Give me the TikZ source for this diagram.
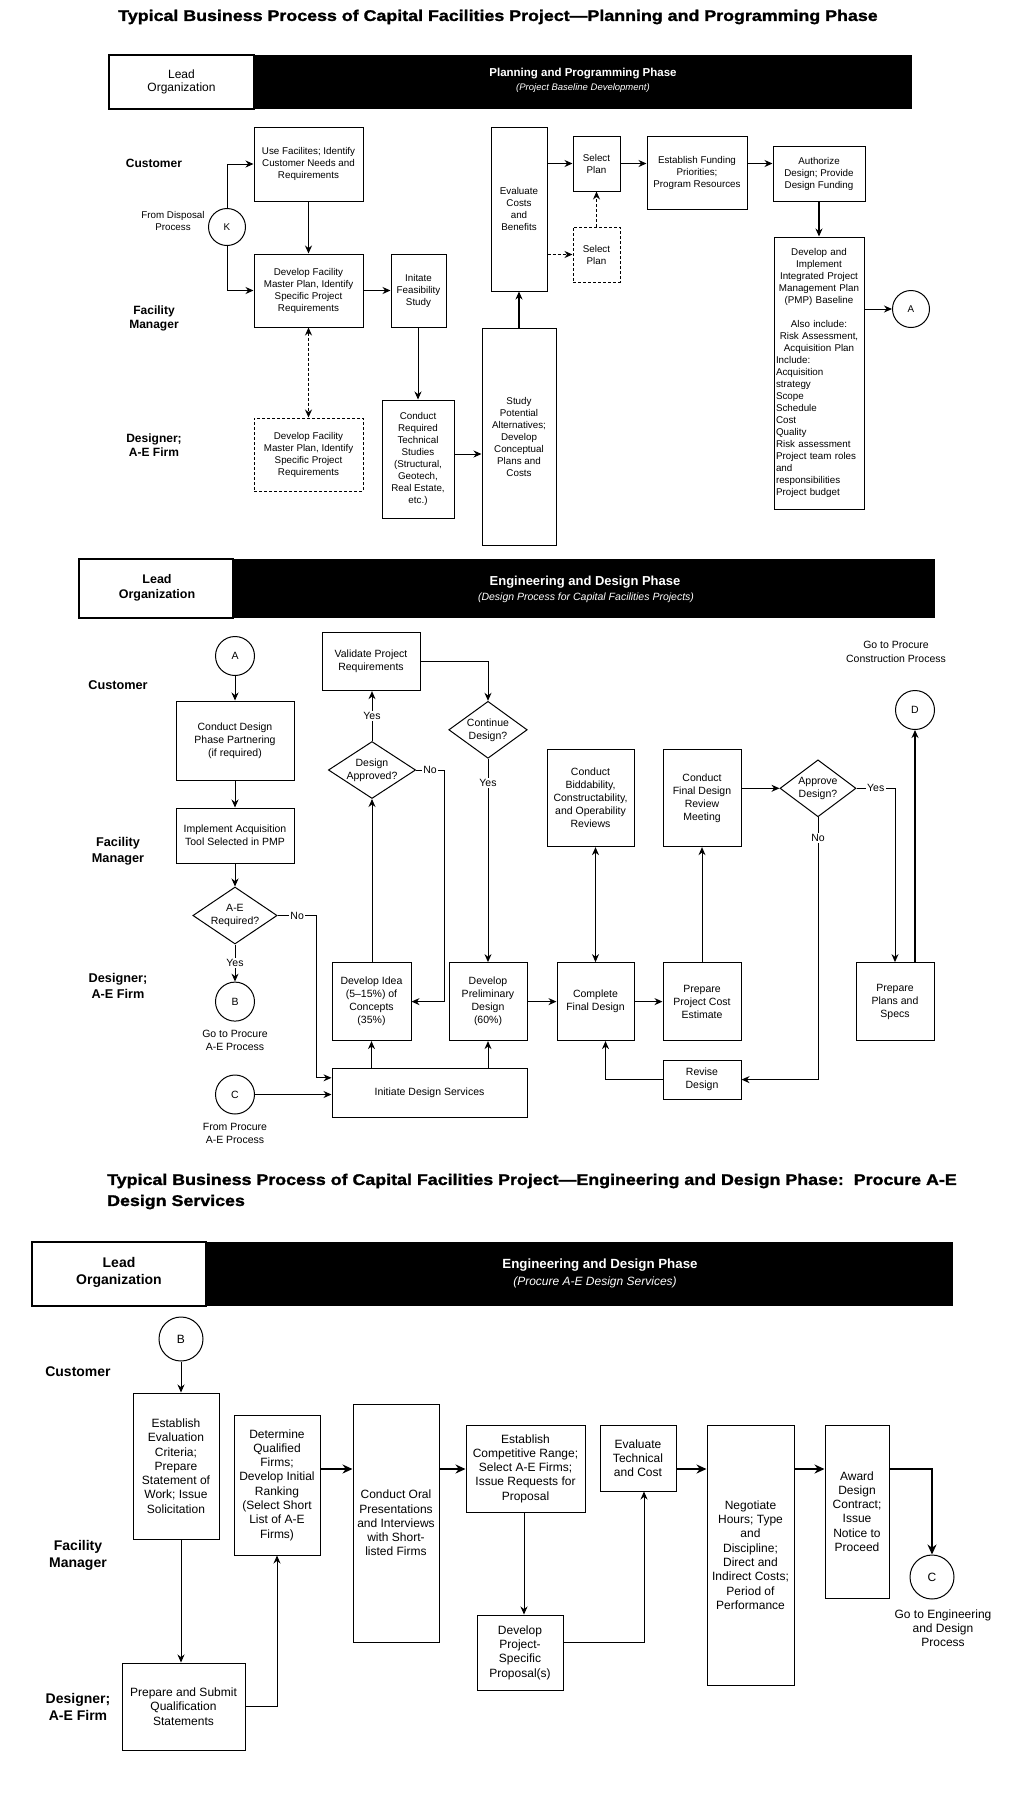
\documentclass[tikz,border=0pt]{standalone}
\usepackage{fontspec}
\setmainfont{Liberation Sans}
\newfontfamily\titlefont[FakeStretch=1.15,FakeBold=1.5]{Liberation Sans}
\usetikzlibrary{shapes.geometric, arrows.meta}

\newcommand{\plansize}{\fontsize{9.8}{12}\selectfont}
\newcommand{\designsize}{\fontsize{10.5}{13}\selectfont}
\newcommand{\procuresize}{\fontsize{12}{14.3}\selectfont}

\tikzstyle{process} = [rectangle, draw=black, line width=1pt, align=center, inner sep=2pt]
\tikzstyle{dashbox} = [process, dash pattern=on 3pt off 2pt]
\tikzstyle{decision} = [diamond, draw=black, line width=1pt, align=center, aspect=1.6, inner sep=0pt, minimum width=78pt, minimum height=57pt]
\tikzstyle{connector} = [circle, draw=black, line width=1pt, minimum size=37pt, inner sep=0pt]
\tikzstyle{lane} = [align=center]
\tikzstyle{note} = [align=center]
\tikzstyle{answer} = [fill=white, inner sep=1.5pt]
\tikzstyle{arrow} = [line width=1pt, ->, >={Stealth[length=8pt, width=7pt]}]
\tikzstyle{heavyarrow} = [arrow, line width=1.8pt]
\tikzstyle{flowarrow} = [line width=2.4pt, ->, >={Stealth[length=10pt, width=9pt]}]
\tikzstyle{dasharrow} = [arrow, dash pattern=on 3pt off 2pt]

\begin{document}
\begin{tikzpicture}[x=1pt, y=-1pt]
\useasboundingbox (0,0) rectangle (1026,1800);

% ---------- planning and programming phase ----------
\begin{scope}[every node/.append style={font=\plansize}]
\node (title1) [font=\titlefont\bfseries\fontsize{15.5}{17}\selectfont] at (498,17) {Typical Business Process of Capital Facilities Project—Planning and Programming Phase};

\fill (254,55) rectangle (912,109);
\draw [line width=1.2pt] (109,55) rectangle (254,109);
\node (lead1) [align=center, font=\fontsize{12}{13}\selectfont] at (181.5,82) {Lead\\Organization};
\node (phase1) [text=white, font=\bfseries\fontsize{11.5}{13}\selectfont] at (583,74) {Planning and Programming Phase};
\node (sub1) [text=white, font=\itshape\fontsize{9.5}{11}\selectfont] at (583,88) {(Project Baseline Development)};

\node (cust1) [lane, font=\bfseries\fontsize{12}{14}\selectfont] at (154,163) {Customer};
\node (fm1) [lane, font=\bfseries\fontsize{12}{14}\selectfont] at (154,318) {Facility\\Manager};
\node (des1) [lane, font=\bfseries\fontsize{12}{14}\selectfont] at (154,445) {Designer;\\A-E Firm};

\node (k) [connector] at (227,227) {K};
\node (fromdisp) [note] at (173,221) {From Disposal\\Process};

\node (usefac) [process, minimum width=109pt, minimum height=74pt] at (308.5,164) {Use Facilites; Identify\\Customer Needs and\\Requirements};
\node (masterplan) [process, minimum width=109pt, minimum height=73pt] at (308.5,290.5) {Develop Facility\\Master Plan, Identify\\Specific Project\\Requirements};
\node (feasible) [process, minimum width=55pt, minimum height=73pt] at (418.5,290.5) {Initate\\Feasibility\\Study};
\node (aeplan) [dashbox, minimum width=109pt, minimum height=73pt] at (308.5,454.5) {Develop Facility\\Master Plan, Identify\\Specific Project\\Requirements};
\node (techstudy) [process, minimum width=72pt, minimum height=118pt] at (418,459) {Conduct\\Required\\Technical\\Studies\\(Structural,\\Geotech,\\Real Estate,\\etc.)};
\node (evalcost) [process, minimum width=56pt, minimum height=164pt] at (519,209) {Evaluate\\Costs\\and\\Benefits};
\node (studyalt) [process, minimum width=74pt, minimum height=217pt] at (519,436.5) {Study\\Potential\\Alternatives;\\Develop\\Conceptual\\Plans and\\Costs};
\node (selplan) [process, minimum width=47pt, minimum height=55pt] at (596.5,163.5) {Select\\Plan};
\node (altplan) [dashbox, minimum width=47pt, minimum height=55pt] at (596.5,254.5) {Select\\Plan};
\node (funding) [process, minimum width=100pt, minimum height=73pt] at (697,172.5) {Establish Funding\\Priorities;\\Program Resources};
\node (authorize) [process, minimum width=92pt, minimum height=55pt] at (819,173.5) {Authorize\\Design; Provide\\Design Funding};
\node (pmp) [process, align=left, text width=86pt, minimum height=272pt] at (819,373) {{\centering Develop and\\Implement\\Integrated Project\\Management Plan\\(PMP) Baseline\\[12pt]Also include:\\Risk Assessment,\\Acquisition Plan\par}Include:\\Acquisition\\strategy\\Scope\\Schedule\\Cost\\Quality\\Risk assessment\\Project team roles\\and\\responsibilities\\Project budget};
\node (a1) [connector] at (911,309) {A};

\draw [arrow] (k) |- (usefac);
\draw [arrow] (k) |- (masterplan);
\draw [arrow] (usefac) -- (masterplan);
\draw [arrow] (masterplan) -- (feasible);
\draw [dasharrow, <->] (masterplan) -- (aeplan);
\draw [arrow] (feasible.south -| techstudy) -- (techstudy);
\draw [arrow] ([yshift=5pt]techstudy.east) -- ([yshift=5pt]techstudy.east -| studyalt.west);
\draw [heavyarrow] (studyalt) -- (evalcost);
\draw [arrow] (evalcost.east |- selplan) -- (selplan);
\draw [dasharrow] (evalcost.east |- altplan) -- (altplan);
\draw [dasharrow] (altplan) -- (selplan);
\draw [arrow] (selplan) -- (selplan -| funding.west);
\draw [arrow] (funding.east |- selplan) -- (authorize.west |- selplan);
\draw [heavyarrow] (authorize) -- (pmp);
\draw [arrow] (pmp.east |- a1) -- (a1);
\end{scope}

% ---------- engineering and design phase ----------
\begin{scope}[every node/.append style={font=\designsize}]
\fill (233,559) rectangle (935,618);
\draw [line width=1.2pt] (79,559) rectangle (233,618);
\node (lead2) [align=center, font=\bfseries\fontsize{12.5}{15.5}\selectfont] at (157,588) {Lead\\Organization};
\node (phase2) [text=white, font=\bfseries\fontsize{13}{15}\selectfont] at (585,582) {Engineering and Design Phase};
\node (sub2) [text=white, font=\itshape\fontsize{10.5}{12}\selectfont] at (586,598) {(Design Process for Capital Facilities Projects)};

\node (cust2) [lane, font=\bfseries\fontsize{12.7}{16}\selectfont] at (118,685) {Customer};
\node (fm2) [lane, font=\bfseries\fontsize{12.7}{16}\selectfont] at (118,851) {Facility\\Manager};
\node (des2) [lane, font=\bfseries\fontsize{12.7}{16}\selectfont] at (118,985.5) {Designer;\\A-E Firm};

\node (a2) [connector, minimum size=39pt] at (235,656) {A};
\node (partner) [process, minimum width=118pt, minimum height=79pt] at (235,740.5) {Conduct Design\\Phase Partnering\\(if required)};
\node (acqtool) [process, minimum width=118pt, minimum height=55pt] at (235,835.5) {Implement Acquisition\\Tool Selected in PMP};
\node (aereq) [decision] at (235,915.5) {A-E\\Required?};
\node (b2) [connector, minimum size=39pt] at (235,1001.6) {B};
\node (gotoae) [note] at (235,1040.6) {Go to Procure\\A-E Process};
\node (c2) [connector, minimum size=39pt] at (235,1094.5) {C};
\node (fromae) [note] at (235,1133.5) {From Procure\\A-E Process};

\node (initdes) [process, minimum width=195pt, minimum height=49.5pt] at (429.5,1092.8) {Initiate Design Services};
\node (idea) [process, minimum width=79pt, minimum height=78pt] at (371.5,1001.6) {Develop Idea\\(5–15\%) of\\Concepts\\(35\%)};
\node (prelim) [process, minimum width=78pt, minimum height=78pt] at (488,1001.6) {Develop\\Preliminary\\Design\\(60\%)};
\node (approved) [decision, minimum width=82pt] at (372,770) {Design\\Approved?};
\node (validate) [process, minimum width=98pt, minimum height=58.5pt] at (371,661.4) {Validate Project\\Requirements};
\node (contdes) [decision] at (488,729.8) {Continue\\Design?};
\node (finaldes) [process, minimum width=77pt, minimum height=78pt] at (595.5,1001.6) {Complete\\Final Design};
\node (bidrev) [process, minimum width=87pt, minimum height=97.5pt] at (590.5,797.9) {Conduct\\Biddability,\\Constructability,\\and Operability\\Reviews};
\node (costest) [process, minimum width=78pt, minimum height=78pt] at (702,1001.6) {Prepare\\Project Cost\\Estimate};
\node (review) [process, minimum width=78pt, minimum height=97.5pt] at (702,797.9) {Conduct\\Final Design\\Review\\Meeting};
\node (approve) [decision, minimum width=76pt] at (818,788.3) {Approve\\Design?};
\node (plans) [process, minimum width=78pt, minimum height=78pt] at (895,1001.6) {Prepare\\Plans and\\Specs};
\node (d2) [connector, minimum size=39pt] at (915,710) {D};
\node (goconst) [note, font=\fontsize{10.5}{13.4}\selectfont] at (896,652) {Go to Procure\\Construction Process};
\node (revise) [process, minimum width=78pt, minimum height=39pt] at (702,1079.6) {Revise\\Design};

\draw [arrow] (a2) -- (partner);
\draw [arrow] (partner) -- (acqtool);
\draw [arrow] (acqtool) -- (aereq);
\draw [arrow] (aereq) -- node[answer] {Yes} (b2);
\draw [arrow] (aereq.east) -- node[answer] {No} ++(39,0) |- ([yshift=15pt]initdes.west);
\draw [arrow] (c2) -- (c2 -| initdes.west);
\draw [arrow] (initdes.north -| idea) -- (idea);
\draw [arrow] (initdes.north -| prelim) -- (prelim);
\draw [arrow] (idea.north -| approved) -- (approved);
\draw [arrow] (approved) -- node[answer] {Yes} (approved |- validate.south);
\draw [arrow] (approved.east) -- node[answer] {No} ++(28,0) |- (idea.east);
\draw [arrow] (validate.east) -| (contdes.north);
\draw [arrow] (contdes) -- node[answer, pos=0.12] {Yes} (prelim);
\draw [arrow] (prelim) -- (finaldes);
\draw [arrow] (finaldes) -- (costest);
\draw [arrow, <->] (finaldes.north) -- (finaldes.north |- bidrev.south);
\draw [arrow] (costest) -- (review);
\draw [arrow] (review.east |- approve) -- (approve);
\draw [arrow] (approve.east) -| node[answer, pos=0.25] {Yes} (plans.north);
\draw [heavyarrow] ([xshift=20pt]plans.north) -- (d2);
\draw [arrow] (approve.south) -- node[answer, pos=0.08] {No} (approve.south |- revise.east) -- (revise.east);
\draw [arrow] (revise.west) -| ([xshift=10pt]finaldes.south);
\end{scope}

% ---------- procure a-e design services ----------
\begin{scope}[every node/.append style={font=\procuresize}]
\node (title2) [anchor=west, align=left, inner sep=0pt, font=\titlefont\bfseries\fontsize{15.5}{21}\selectfont] at (107,1191.5) {Typical Business Process of Capital Facilities Project—Engineering and Design Phase:\ \ Procure A-E\\Design Services};

\fill (206,1242) rectangle (953,1306);
\draw [line width=1.2pt] (32,1242) rectangle (206,1306);
\node (lead3) [align=center, font=\bfseries\fontsize{14}{17}\selectfont] at (119,1272) {Lead\\Organization};
\node (phase3) [text=white, font=\bfseries\fontsize{13.3}{15}\selectfont] at (600,1265) {Engineering and Design Phase};
\node (sub3) [text=white, font=\itshape\fontsize{12}{14}\selectfont] at (595,1282) {(Procure A-E Design Services)};

\node (cust3) [lane, font=\bfseries\fontsize{14}{17}\selectfont] at (78,1372) {Customer};
\node (fm3) [lane, font=\bfseries\fontsize{14}{17}\selectfont] at (78,1555) {Facility\\Manager};
\node (des3) [lane, font=\bfseries\fontsize{14}{17}\selectfont] at (78,1707) {Designer;\\A-E Firm};

\node (b3) [connector, minimum size=44pt] at (181,1339) {B};
\node (evalcrit) [process, minimum width=86pt, minimum height=146pt] at (176,1466) {Establish\\Evaluation\\Criteria;\\Prepare\\Statement of\\Work; Issue\\Solicitation};
\node (prepsub) [process, minimum width=123pt, minimum height=87pt] at (183.5,1706.5) {Prepare and Submit\\Qualification\\Statements};
\node (determine) [process, minimum width=86pt, minimum height=140pt] at (277,1485) {Determine\\Qualified\\Firms;\\Develop Initial\\Ranking\\(Select Short\\List of A-E\\Firms)};
\node (oral) [process, minimum width=86pt, minimum height=238pt] at (396,1523) {Conduct Oral\\Presentations\\and Interviews\\with Short-\\listed Firms};
\node (competitive) [process, minimum width=119pt, minimum height=87pt] at (525.5,1468.5) {Establish\\Competitive Range;\\Select A-E Firms;\\Issue Requests for\\Proposal};
\node (proposal) [process, minimum width=86pt, minimum height=75pt] at (520,1652.5) {Develop\\Project-\\Specific\\Proposal(s)};
\node (evaltech) [process, minimum width=76pt, minimum height=66pt] at (638,1458) {Evaluate\\Technical\\and Cost};
\node (negotiate) [process, minimum width=87pt, minimum height=260pt] at (750.5,1555) {Negotiate\\Hours; Type\\and\\Discipline;\\Direct and\\Indirect Costs;\\Period of\\Performance};
\node (award) [process, minimum width=64pt, minimum height=173pt] at (857,1511.5) {Award\\Design\\Contract;\\Issue\\Notice to\\Proceed};
\node (c3) [connector, minimum size=44pt] at (932,1577) {C};
\node (gotoed) [note] at (943,1628) {Go to Engineering\\and Design\\Process};

\coordinate (flow) at (0,1469);
\draw [arrow] (b3) -- (b3 |- evalcrit.north);
\draw [arrow] (evalcrit.south -| b3) -- (prepsub.north -| b3);
\draw [arrow] (prepsub.east) -| (determine.south);
\draw [flowarrow] (determine.east |- flow) -- (oral.west |- flow);
\draw [flowarrow] (oral.east |- flow) -- (competitive.west |- flow);
\draw [arrow] ([xshift=-1.5pt]competitive.south) -- ([xshift=-1.5pt]competitive.south |- proposal.north);
\draw [arrow] ([yshift=10pt]proposal.east) -| ([xshift=6pt]evaltech.south);
\draw [flowarrow] (evaltech.east |- flow) -- (negotiate.west |- flow);
\draw [flowarrow] (negotiate.east |- flow) -- (award.west |- flow);
\draw [flowarrow] (award.east |- flow) -| (c3);
\end{scope}

\end{tikzpicture}
\end{document}
